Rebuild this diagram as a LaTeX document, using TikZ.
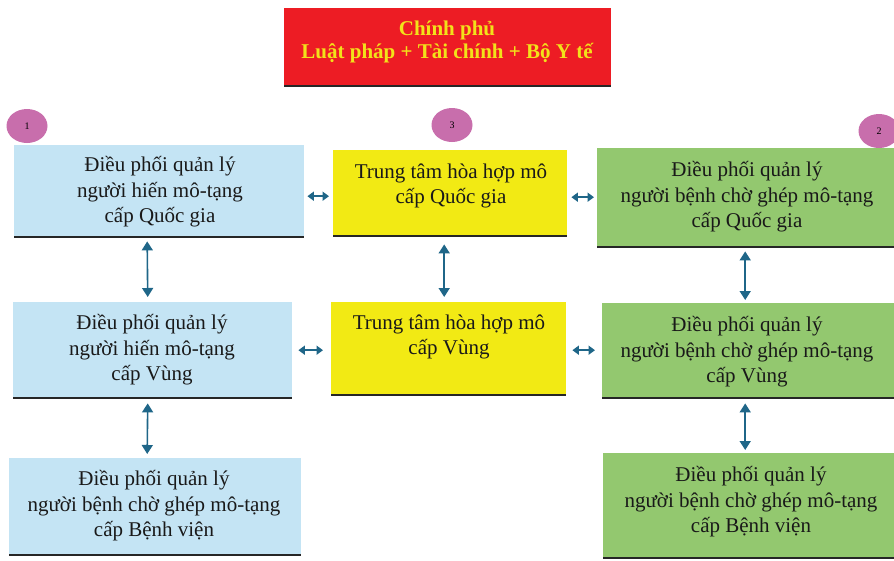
\documentclass[tikz,border=0pt]{standalone}
\usepackage{fontspec}
\setmainfont{Liberation Serif}
\usetikzlibrary{arrows.meta,shapes.geometric}
\definecolor{govred}{HTML}{ED1C24}
\definecolor{govtext}{HTML}{F2E21A}
\definecolor{bluebox}{HTML}{C4E4F4}
\definecolor{yellowbox}{HTML}{F2EA14}
\definecolor{greenbox}{HTML}{93C86F}
\definecolor{badge}{HTML}{C86EAC}
\definecolor{arrowc}{HTML}{1F6688}
\tikzset{
  boxbase/.style={rectangle, inner sep=0pt, anchor=north west},
  txt/.style={align=center, font=\fontsize{21}{25.5}\selectfont, text=black!90, inner sep=0pt},
  badgec/.style={ellipse, fill=badge, minimum width=41pt, minimum height=34pt, inner sep=0pt, font=\fontsize{10}{11}\selectfont},
  conn/.style={draw=arrowc, line width=1.6pt, {Triangle[length=9pt,width=11pt]}-{Triangle[length=9pt,width=11pt]}},
  sconn/.style={draw=arrowc, line width=2pt, {Triangle[length=6.5pt,width=9pt]}-{Triangle[length=6.5pt,width=9pt]}},
  bline/.style={line width=2pt, black!85}
}
\begin{document}
\begin{tikzpicture}[x=1pt,y=-1pt]
\useasboundingbox (0,0) rectangle (894,560);
\fill[white] (0,0) rectangle (894,560);
% boxes
\newcommand{\mkbox}[6]{% name, x1, y1, x2, y2, color
  \node[boxbase, fill=#6, minimum width=#4pt-#2pt, minimum height=#5pt-#3pt] (#1) at (#2,#3) {};
  \draw[bline] (#1.south west) -- (#1.south east);
}
\mkbox{gov}{284}{8}{611}{86}{govred}
\mkbox{l1}{14}{145}{304}{237}{bluebox}
\mkbox{l2}{13}{302}{292}{398}{bluebox}
\mkbox{l3}{9}{458}{301}{555}{bluebox}
\mkbox{m1}{333}{150}{567}{236}{yellowbox}
\mkbox{m2}{331}{302}{566}{395}{yellowbox}
\mkbox{r1}{597}{148}{894}{247}{greenbox}
\mkbox{r2}{602}{303}{894}{398}{greenbox}
\mkbox{r3}{603}{453}{894}{558}{greenbox}
% texts
\node[txt, text=govtext, font=\bfseries\fontsize{21}{23.5}\selectfont] (tgov) at (447,42) {Chính phủ\\Luật pháp + Tài chính + Bộ Y tế};
\node[txt] (tl1) at (160,192) {Điều phối quản lý\\người hiến mô-tạng\\cấp Quốc gia};
\node[txt] (tl2) at (152,350) {Điều phối quản lý\\người hiến mô-tạng\\cấp Vùng};
\node[txt] (tl3) at (154,506) {Điều phối quản lý\\người bệnh chờ ghép mô-tạng\\cấp Bệnh viện};
\node[txt] (tm1) at (451,186) {Trung tâm hòa hợp mô\\cấp Quốc gia};
\node[txt] (tm2) at (449,337) {Trung tâm hòa hợp mô\\cấp Vùng};
\node[txt] (tr1) at (747,197) {Điều phối quản lý\\người bệnh chờ ghép mô-tạng\\cấp Quốc gia};
\node[txt] (tr2) at (747,352) {Điều phối quản lý\\người bệnh chờ ghép mô-tạng\\cấp Vùng};
\node[txt] (tr3) at (751,502) {Điều phối quản lý\\người bệnh chờ ghép mô-tạng\\cấp Bệnh viện};
% badges
\node[badgec] (b1) at (27,126) {1};
\node[badgec] (b3) at (452,125) {3};
\node[badgec] (b2) at (879,131) {2};
% vertical connectors
\draw[conn] ([xshift=-12pt,yshift=-4pt]l1.south) -- ([xshift=-5pt,yshift=5pt]l2.north);
\draw[conn] ([xshift=-5pt,yshift=-5pt]l2.south) -- ([xshift=-8pt,yshift=4pt]l3.north);
\draw[conn] ([xshift=-6pt,yshift=-8pt]m1.south) -- ([xshift=-4.5pt,yshift=5pt]m2.north);
\draw[conn] ([xshift=-0.5pt,yshift=-4pt]r1.south) -- ([xshift=-3pt,yshift=3pt]r2.north);
\draw[conn] ([xshift=-3pt,yshift=-5pt]r2.south) -- ([xshift=-3.5pt,yshift=3pt]r3.north);
% horizontal connectors
\draw[sconn] ([xshift=3pt,yshift=-5pt]l1.east) -- ([xshift=-4pt,yshift=-5pt]l1.east -| m1.west);
\draw[sconn] ([xshift=4pt,yshift=-4pt]m1.east) -- ([xshift=-3pt,yshift=-4pt]m1.east -| r1.west);
\draw[sconn] ([xshift=6pt]l2.east) -- ([xshift=-8pt]l2.east -| m2.west);
\draw[sconn] ([xshift=6pt,yshift=-1.5pt]m2.east) -- ([xshift=-7pt,yshift=-1.5pt]m2.east -| r2.west);
\end{tikzpicture}
\end{document}
